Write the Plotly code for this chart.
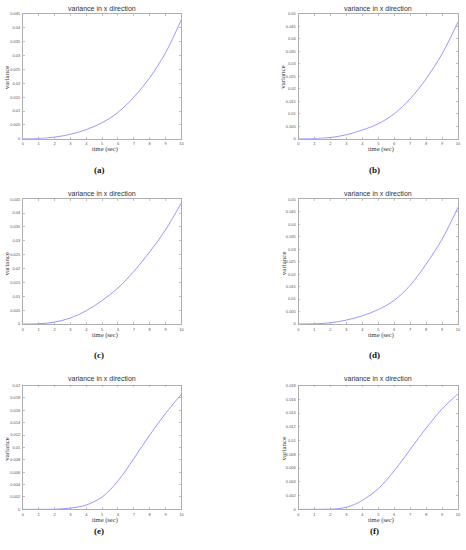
import plotly.graph_objects as go

W, H = 466, 550

# ---- data ----
t = [0, 1, 2, 3, 4, 5, 6, 7, 8, 9, 10]
var_a = [0, 0.0001, 0.0006, 0.0016, 0.0033, 0.0058, 0.0095, 0.0150, 0.0220, 0.0310, 0.0430]
var_b = [0, 0.0001, 0.0005, 0.0016, 0.0035, 0.0060, 0.0100, 0.0160, 0.0240, 0.0340, 0.0468]
var_c = [0, 0.0001, 0.0007, 0.0022, 0.0048, 0.0085, 0.0130, 0.0190, 0.0260, 0.0340, 0.0437]
var_d = [0, 0.0001, 0.0005, 0.0016, 0.0033, 0.0058, 0.0095, 0.0155, 0.0240, 0.0340, 0.0468]

t_ef = [0, 1, 2, 2.5, 3, 3.5, 4, 5, 6, 7, 8, 9, 10]
var_e = [0, 0, 0.00002, 0.0001, 0.0002, 0.0004, 0.0007, 0.0020, 0.0046, 0.0082, 0.0120, 0.0155, 0.0186]
var_f = [0, 0, 0.00003, 0.0001, 0.0003, 0.0007, 0.0013, 0.0030, 0.0056, 0.0087, 0.0118, 0.0146, 0.0168]

x_ticks = [0, 1, 2, 3, 4, 5, 6, 7, 8, 9, 10]
y_ticks_045 = [0, 0.005, 0.01, 0.015, 0.02, 0.025, 0.03, 0.035, 0.04, 0.045]
y_ticks_05 = [0, 0.005, 0.01, 0.015, 0.02, 0.025, 0.03, 0.035, 0.04, 0.045, 0.05]
y_ticks_02 = [0, 0.002, 0.004, 0.006, 0.008, 0.01, 0.012, 0.014, 0.016, 0.018, 0.02]
y_ticks_018 = [0, 0.002, 0.004, 0.006, 0.008, 0.01, 0.012, 0.014, 0.016, 0.018]

captions = ["(a)", "(b)", "(c)", "(d)", "(e)", "(f)"]
title_text = "variance in x direction"
xlabel_text = "time (sec)"
ylabel_text = "variance"

# ---- layout geometry (pixels) ----
cols = [(22, 182), (300, 461)]
rows = [(11, 137), (198, 324), (386, 511)]
title_y = [6, 192, 379]
xlabel_y = [147, 335, 521.5]
ylabel_y = [75, 263, 450]
caption_y = [169, 355, 533]
col_center = [102, 380]
ylabel_x = [6, 285]

panels = [
    (t, var_a, y_ticks_045, 0.045),
    (t, var_b, y_ticks_05, 0.05),
    (t, var_c, y_ticks_045, 0.045),
    (t, var_d, y_ticks_05, 0.05),
    (t_ef, var_e, y_ticks_02, 0.02),
    (t_ef, var_f, y_ticks_018, 0.018),
]

def px_x(p):
    return p / W

def px_y(p):
    return 1 - p / H

fig = go.Figure()
annotations = []
layout_axes = {}

for i, (xs, ys, yt, ymax) in enumerate(panels):
    r, c = divmod(i, 2)
    n = "" if i == 0 else str(i + 1)
    fig.add_trace(go.Scatter(
        x=xs, y=ys, mode="lines",
        line=dict(color="rgb(140,140,255)", width=0.9, shape="spline", smoothing=1.0),
        xaxis="x" + n, yaxis="y" + n, showlegend=False, hoverinfo="skip"))
    axis_common = dict(
        showgrid=False, zeroline=False, showline=True, linecolor="#9a9a9a", linewidth=0.8,
        mirror="ticks", ticks="inside", ticklen=2, tickwidth=0.6, tickcolor="#9a9a9a",
        tickfont=dict(size=4, color="#555", family="Liberation Sans"),
    )
    layout_axes["xaxis" + n] = dict(
        axis_common, domain=[px_x(cols[c][0]), px_x(cols[c][1])], range=[0, 10],
        tickvals=x_ticks, ticktext=[f"{v:g}" for v in x_ticks], anchor="y" + n,
        ticklabelstandoff=1)
    layout_axes["yaxis" + n] = dict(
        axis_common, domain=[px_y(rows[r][1]), px_y(rows[r][0])], range=[0, ymax],
        tickvals=yt, ticktext=[f"{v:g}" for v in yt], anchor="x" + n,
        ticklabelstandoff=1)

    annotations.append(dict(text=title_text, x=px_x(col_center[c]), y=px_y(title_y[r]),
                            xref="paper", yref="paper", showarrow=False, xanchor="center", yanchor="middle",
                            font=dict(size=7, color="#333", family="Liberation Sans")))
    annotations.append(dict(text=xlabel_text, x=px_x(col_center[c] + 3), y=px_y(xlabel_y[r]),
                            xref="paper", yref="paper", showarrow=False, xanchor="center", yanchor="middle",
                            font=dict(size=6.5, color="#333", family="Liberation Serif")))
    annotations.append(dict(text=ylabel_text, x=px_x(ylabel_x[c]), y=px_y(ylabel_y[r]),
                            xref="paper", yref="paper", showarrow=False, xanchor="center", yanchor="middle",
                            textangle=-90,
                            font=dict(size=7, color="#333", family="Liberation Serif")))
    annotations.append(dict(text="<b>" + captions[i] + "</b>", x=px_x(col_center[c] - 3), y=px_y(caption_y[r]),
                            xref="paper", yref="paper", showarrow=False, xanchor="center", yanchor="middle",
                            font=dict(size=9, color="#111", family="Liberation Serif")))

fig.update_layout(
    width=W, height=H, margin=dict(l=0, r=0, t=0, b=0),
    paper_bgcolor="white", plot_bgcolor="white",
    annotations=annotations, **layout_axes)

fig.write_html("out.html", config={"displayModeBar": False, "staticPlot": True},
               post_script="document.body.style.margin='0';document.body.style.padding='0';")
